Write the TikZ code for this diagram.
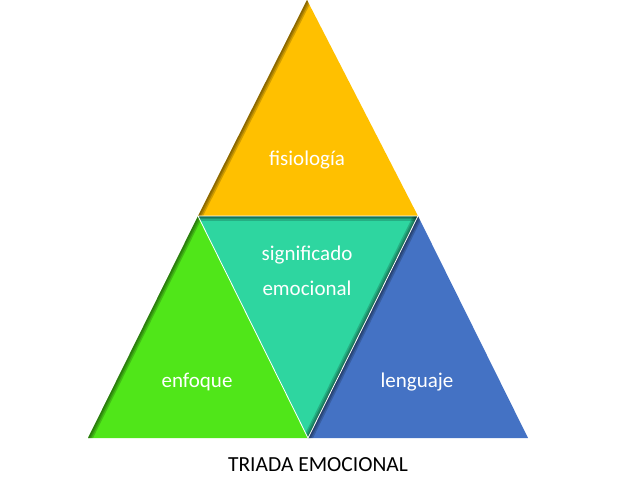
\documentclass[tikz,border=0pt]{standalone}
\usepackage{fontspec}
\setmainfont{Carlito}
\definecolor{amarillo}{HTML}{FFC000}
\definecolor{verde}{HTML}{50E619}
\definecolor{turquesa}{HTML}{2ED6A0}
\definecolor{azul}{HTML}{4472C4}
\tikzset{
  pieza/.style={draw=white,line width=0.8pt,line join=miter},
  sombra/.style={draw=black,opacity=0.18,line width=#1},
  sombra/.default=5pt,
  rotulo/.style={text=white,font=\fontsize{21}{25}\selectfont}
}
\newcommand\bordeoscuro[5]{% triangulo a-b-c, borde d-e
  \begin{scope}\clip (#1) -- (#2) -- (#3) -- cycle;
  \foreach \w in {9pt,6pt,3pt}{\draw[sombra=\w] (#4) -- (#5);}
  \end{scope}}

\begin{document}
\begin{tikzpicture}[x=1pt,y=-1pt]
\useasboundingbox (0,0) rectangle (643,488);
\coordinate (A) at (307,0);
\coordinate (L) at (198,216); \coordinate (R) at (418,216);
\coordinate (BL) at (88,438); \coordinate (BM) at (308,438); \coordinate (BR) at (528,438);
\fill[fill=amarillo] (A) -- (L) -- (R) -- cycle;
\fill[fill=verde] (L) -- (BL) -- (BM) -- cycle;
\fill[fill=azul] (R) -- (BM) -- (BR) -- cycle;
\fill[fill=turquesa] (L) -- (R) -- (BM) -- cycle;
% sombras interiores
\bordeoscuro{A}{L}{R}{A}{L}
\bordeoscuro{L}{BL}{BM}{L}{BL}
\bordeoscuro{R}{BM}{BR}{R}{BM}
\bordeoscuro{L}{R}{BM}{R}{BM}
\bordeoscuro{L}{R}{BM}{L}{R}
\draw[pieza] (L) -- (R) -- (BM) -- cycle;
% textos
\node[rotulo] (fis) at (307,160) {fisiología};
\node[rotulo,align=center] (sig) at (307,271) {significado\\[10pt]emocional};
\node[rotulo] (enf) at (197,382) {enfoque};
\node[rotulo] (len) at (417,382) {lenguaje};
\node[font=\fontsize{21.5}{25}\selectfont] (tit) at (318,465) {TRIADA EMOCIONAL};
\end{tikzpicture}
\end{document}
